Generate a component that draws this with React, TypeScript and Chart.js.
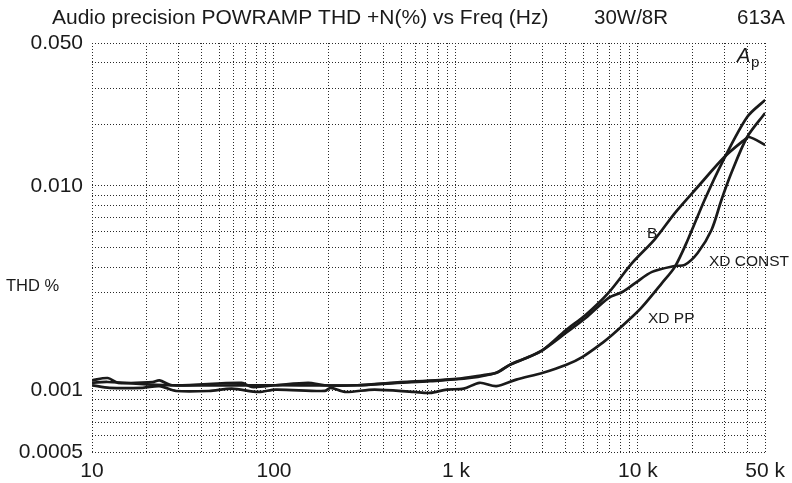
import React, { useEffect, useRef } from "react";
import { Chart, registerables } from "chart.js";

Chart.register(...registerables);

// ---- data ----
const bFreq = [10, 12.2, 26.6, 102, 288, 436, 1010, 1417, 1668, 1963, 2144, 2523, 3008, 4013, 5156, 6880, 9300, 12400, 15950, 21280, 29850, 38370, 40830, 50000];
const bThd = [0.00109, 0.0011, 0.00106, 0.00106, 0.00106, 0.00109, 0.00114, 0.00119, 0.00122, 0.00133, 0.00138, 0.00146, 0.00158, 0.00197, 0.00234, 0.003, 0.0042, 0.0055, 0.00737, 0.00988, 0.01385, 0.01678, 0.01735, 0.01587];

const xcFreq = [10, 12.2, 13.9, 21.5, 23.5, 27.6, 66.4, 75.3, 102, 154, 190, 288, 476, 720, 1189, 1668, 1963, 2523, 3008, 4013, 5156, 6880, 8201, 9654, 11950, 15950, 18070, 21280, 25360, 28750, 32590, 39830, 50000];
const xcThd = [0.00112, 0.00115, 0.00109, 0.0011, 0.00112, 0.00106, 0.00109, 0.00104, 0.00106, 0.00109, 0.00106, 0.00106, 0.00109, 0.00111, 0.00115, 0.00122, 0.00133, 0.00146, 0.00158, 0.00191, 0.00226, 0.00283, 0.00303, 0.00335, 0.0038, 0.00406, 0.00411, 0.0047, 0.00609, 0.00854, 0.01157, 0.01735, 0.02274];

const ppFreq = [10, 12.5, 19, 23.5, 29, 43.9, 58.6, 82.2, 102, 190, 205, 245, 357, 589, 720, 891, 1103, 1348, 1668, 2144, 3008, 4013, 4966, 6383, 7235, 9300, 10540, 13545, 15950, 18770, 23230, 29110, 39830, 50000];
const ppThd = [0.00106, 0.00103, 0.00103, 0.00105, 0.000994, 0.000994, 0.00102, 0.000983, 0.00101, 0.000994, 0.00103, 0.000983, 0.00101, 0.000983, 0.000972, 0.00101, 0.00102, 0.00109, 0.00105, 0.00113, 0.00122, 0.00133, 0.00146, 0.00171, 0.00187, 0.00229, 0.00256, 0.00335, 0.00402, 0.00544, 0.00854, 0.01309, 0.02173, 0.02633];

const xGridValues = [10, 20, 30, 40, 50, 60, 70, 80, 90, 100, 200, 300, 400, 500, 600, 700, 800, 900, 1000, 2000, 3000, 4000, 5000, 6000, 7000, 8000, 9000, 10000, 20000, 30000, 40000, 50000];
const xLabelValues = [10, 100, 1000, 10000, 50000];
const xLabelTexts = ["10", "100", "1 k", "10 k", "50 k"];

const yGridValues = [0.0005, 0.0006, 0.0007, 0.0008, 0.0009, 0.001, 0.002, 0.003, 0.004, 0.005, 0.006, 0.007, 0.008, 0.009, 0.01, 0.02, 0.03, 0.04, 0.05];
const yLabelValues = [0.0005, 0.001, 0.01, 0.05];
const yLabelTexts = ["0.0005", "0.001", "0.010", "0.050"];

const seriesNames = ["B", "XD CONST", "XD PP"];

const W = 792;
const H = 483;
const FONT = '"Liberation Sans", Arial, Helvetica, sans-serif';
const INK = "#1a1a1a";
const GRID = "#2a2a2a";

function labelFor(v: number, vals: number[], texts: string[]) {
  for (let i = 0; i < vals.length; i++) {
    if (Math.abs(v - vals[i]) / vals[i] < 1e-6) return texts[i];
  }
  return "";
}

const textPlugin = {
  id: "textPlugin",
  afterDraw(chart: any) {
    const ctx = chart.ctx;
    ctx.save();
    ctx.fillStyle = INK;
    ctx.textBaseline = "alphabetic";
    ctx.textAlign = "left";
    ctx.font = `21px ${FONT}`;
    ctx.fillText("Audio precision POWRAMP THD +N(%) vs Freq (Hz)", 52, 24);
    ctx.font = `20.5px ${FONT}`;
    ctx.fillText("30W/8R", 594, 24);
    ctx.fillText("613A", 737, 24);

    ctx.font = `16.5px ${FONT}`;
    ctx.fillText("THD %", 6, 291);

    ctx.font = `15.5px ${FONT}`;
    ctx.fillText("B", 647, 238);
    ctx.fillText("XD CONST", 709, 266);
    ctx.fillText("XD PP", 648, 323);

    ctx.font = `italic 20px ${FONT}`;
    ctx.fillText("A", 737, 62);
    ctx.font = `15px ${FONT}`;
    ctx.fillText("p", 751, 67);
    ctx.restore();
  },
};

export default function App() {
  const ref = useRef<HTMLCanvasElement | null>(null);

  useEffect(() => {
    if (!ref.current) return;
    const mk = (fs: number[], vs: number[]) => fs.map((f, i) => ({ x: f, y: vs[i] }));
    const datasets = [
      { label: seriesNames[0], data: mk(bFreq, bThd) },
      { label: seriesNames[1], data: mk(xcFreq, xcThd) },
      { label: seriesNames[2], data: mk(ppFreq, ppThd) },
    ].map((d) => ({
      ...d,
      borderColor: INK,
      backgroundColor: INK,
      borderWidth: 2.7,
      pointRadius: 0,
      tension: 0.3,
      fill: false,
    }));

    const chart = new Chart(ref.current, {
      type: "line",
      data: { datasets },
      options: {
        responsive: false,
        animation: false,
        events: [],
        layout: { padding: { top: 43, right: 21, bottom: 0, left: 0 } },
        plugins: { legend: { display: false }, tooltip: { enabled: false }, title: { display: false } },
        scales: {
          x: {
            type: "logarithmic",
            min: 10,
            max: 50000,
            afterBuildTicks: (scale: any) => {
              scale.ticks = xGridValues.map((v) => ({ value: v }));
            },
            afterFit: (scale: any) => {
              scale.height = 31;
            },
            grid: { color: GRID, lineWidth: 1, drawTicks: false },
            border: { display: false, dash: [1, 2] },
            ticks: {
              autoSkip: false,
              maxRotation: 0,
              minRotation: 0,
              padding: 7,
              color: INK,
              font: { family: FONT, size: 21 },
              callback: (v: any) => labelFor(Number(v), xLabelValues, xLabelTexts),
            },
          },
          y: {
            type: "logarithmic",
            min: 0.0005,
            max: 0.05,
            afterBuildTicks: (scale: any) => {
              scale.ticks = yGridValues.map((v) => ({ value: v }));
            },
            afterFit: (scale: any) => {
              scale.width = 92;
            },
            grid: { color: GRID, lineWidth: 1, drawTicks: false },
            border: { display: false, dash: [1, 2] },
            ticks: {
              autoSkip: false,
              padding: 9,
              color: INK,
              font: { family: FONT, size: 21 },
              callback: (v: any) => labelFor(Number(v), yLabelValues, yLabelTexts),
            },
          },
        },
      },
      plugins: [textPlugin],
    } as any);
    return () => chart.destroy();
  }, []);

  return (
    <div style={{ position: "fixed", left: 0, top: 0, width: W, height: H, background: "#fff" }}>
      <canvas ref={ref} width={W} height={H} style={{ width: W, height: H, display: "block" }} />
    </div>
  );
}
